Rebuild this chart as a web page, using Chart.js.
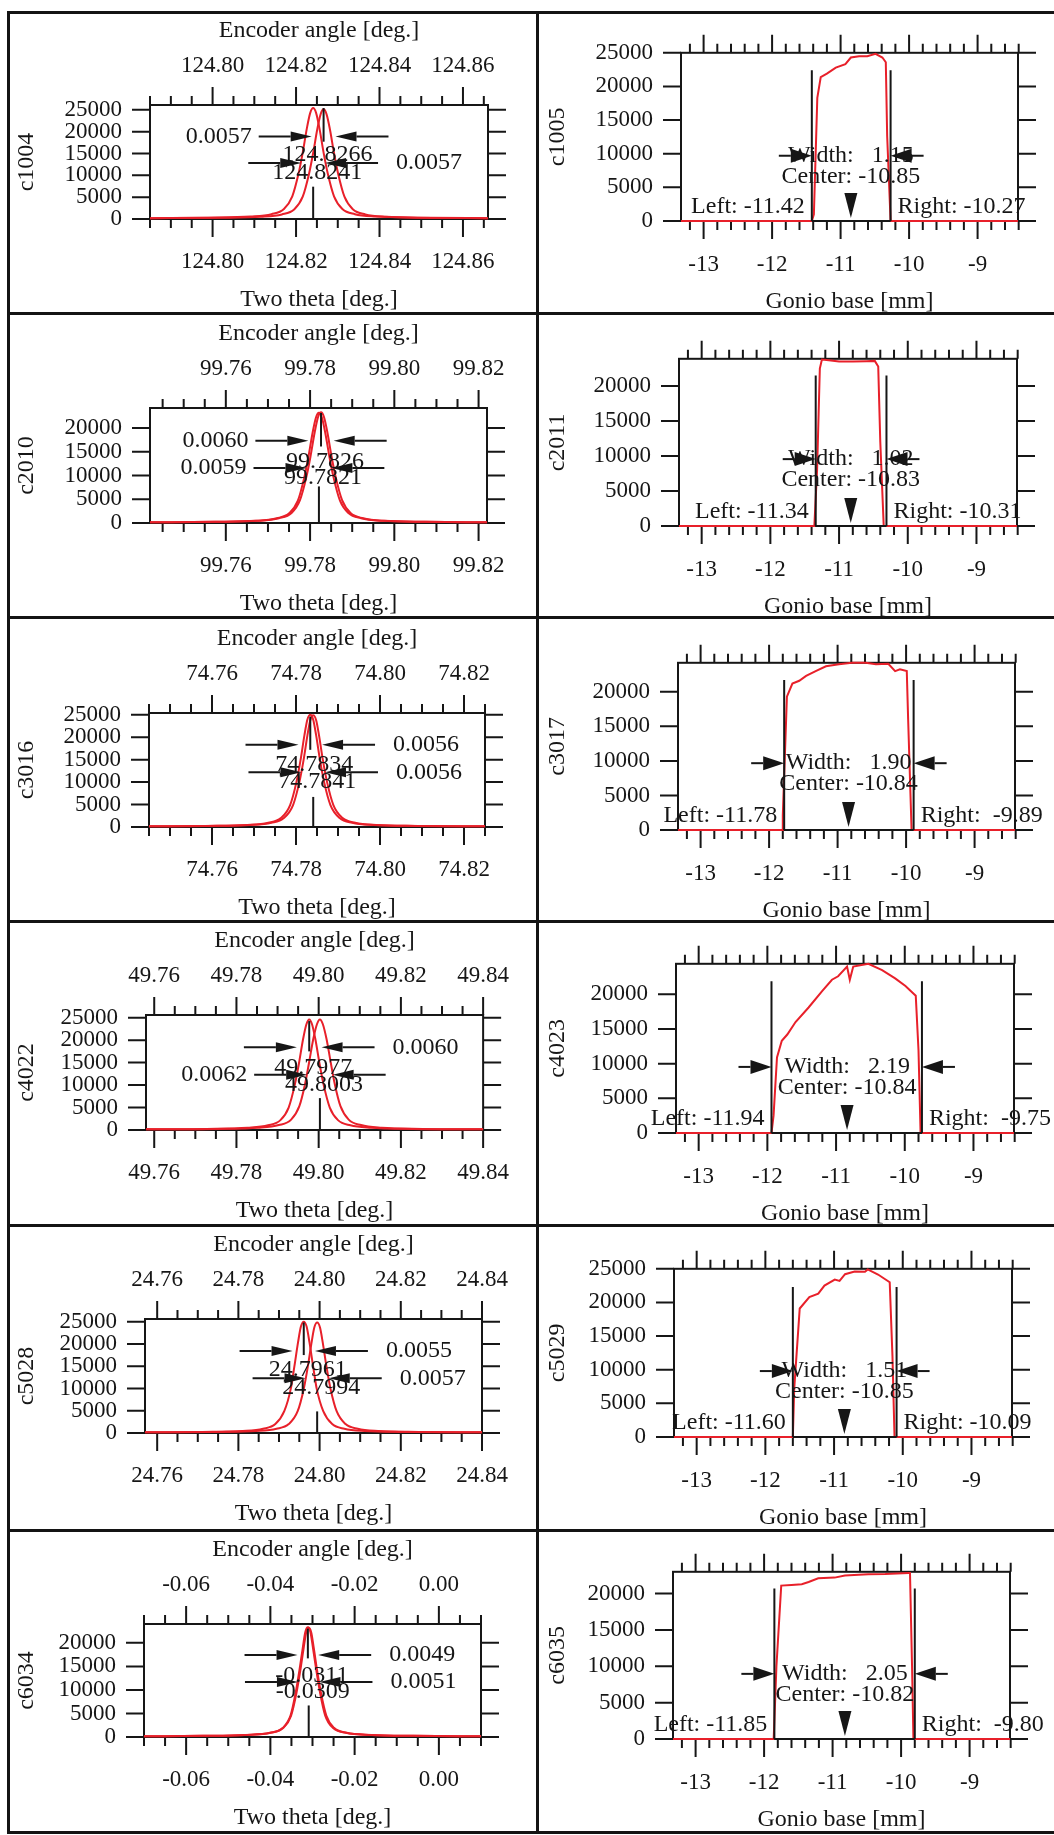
<!DOCTYPE html>
<html>
<head>
<meta charset="utf-8">
<script src="https://cdn.jsdelivr.net/npm/chart.js@4/dist/chart.umd.min.js"></script>
<style>
  body { margin: 0; background: #fff; }
  #page { position: relative; width: 1054px; height: 1835px; overflow: hidden; background: #fff; }
  #page canvas { position: absolute; }
  .rule { position: absolute; background: #141414; }
</style>
</head>
<body>
<div id="page"></div>
<script>
// ---- left column: two theta scans ----
const thetaNames = ['c1004', 'c2010', 'c3016', 'c4022', 'c5028', 'c6034'];
const thetaRange = [[124.785, 124.866], [99.742, 99.822], [74.745, 74.825], [49.758, 49.840], [24.757, 24.840], [-0.070, 0.010]];
const thetaMajor = [
  [124.80, 124.82, 124.84, 124.86],
  [99.76, 99.78, 99.80, 99.82],
  [74.76, 74.78, 74.80, 74.82],
  [49.76, 49.78, 49.80, 49.82, 49.84],
  [24.76, 24.78, 24.80, 24.82, 24.84],
  [-0.06, -0.04, -0.02, 0.00]
];
const thetaMinor = [[124.785, 124.865], [99.745, 99.820], [74.745, 74.825], [49.760, 49.840], [24.760, 24.840], [-0.070, 0.010]]; // every 0.005
const thetaYMax = [26100, 24200, 25400, 25600, 25600, 24000];
const countTicks = [0, 5000, 10000, 15000, 20000, 25000];

const c1004a = [[124.785,200],[124.7991,300],[124.8091,550],[124.8141,1100],[124.8171,2300],[124.8191,5200],[124.8206,10400],[124.8216,15200],[124.8226,20800],[124.8234,24300],[124.8241,25400],[124.8248,24300],[124.8256,20800],[124.8266,15200],[124.8276,10400],[124.8291,5200],[124.8311,2300],[124.8341,1100],[124.8391,550],[124.8491,300],[124.866,200]];
const c1004b = [[124.785,200],[124.8016,280],[124.8116,500],[124.8166,1050],[124.8196,2250],[124.8216,5100],[124.8231,10300],[124.8241,15100],[124.8251,20600],[124.8259,24000],[124.8266,25100],[124.8273,24000],[124.8281,20600],[124.8291,15100],[124.8301,10300],[124.8316,5100],[124.8336,2250],[124.8366,1050],[124.8416,500],[124.8516,280],[124.866,200]];
const c2010a = [[99.742,150],[99.7576,250],[99.7676,450],[99.7726,1000],[99.7756,2100],[99.7776,4800],[99.7791,9600],[99.7801,14000],[99.7811,19100],[99.7819,22300],[99.7826,23300],[99.7833,22300],[99.7841,19100],[99.7851,14000],[99.7861,9600],[99.7876,4800],[99.7896,2100],[99.7926,1000],[99.7976,450],[99.8076,250],[99.822,150]];
const c2010b = [[99.742,150],[99.7571,250],[99.7671,450],[99.7721,1000],[99.7751,2100],[99.7771,4700],[99.7786,9500],[99.7796,13900],[99.7806,19000],[99.7814,22200],[99.7821,23200],[99.7828,22200],[99.7836,19000],[99.7846,13900],[99.7856,9500],[99.7871,4700],[99.7891,2100],[99.7921,1000],[99.7971,450],[99.8071,250],[99.822,150]];
const c3016a = [[74.745,150],[74.7584,250],[74.7684,450],[74.7734,950],[74.7764,2000],[74.7786,4900],[74.7801,10000],[74.7811,15000],[74.7820,20400],[74.7827,23900],[74.7834,25000],[74.7841,23900],[74.7848,20400],[74.7857,15000],[74.7867,10000],[74.7882,4900],[74.7904,2000],[74.7934,950],[74.7984,450],[74.8084,250],[74.825,150]];
const c3016b = [[74.745,150],[74.7591,250],[74.7691,450],[74.7741,950],[74.7771,2000],[74.7793,4900],[74.7808,10000],[74.7818,14900],[74.7827,20300],[74.7834,23800],[74.7841,24900],[74.7848,23800],[74.7855,20300],[74.7864,14900],[74.7874,10000],[74.7889,4900],[74.7911,2000],[74.7941,950],[74.7991,450],[74.8091,250],[74.825,150]];
const c4022a = [[49.758,150],[49.7727,250],[49.7827,500],[49.7877,1050],[49.7907,2200],[49.7927,5000],[49.7942,10100],[49.7952,14800],[49.7962,20200],[49.7970,23500],[49.7977,24600],[49.7984,23500],[49.7992,20200],[49.8002,14800],[49.8012,10100],[49.8027,5000],[49.8047,2200],[49.8077,1050],[49.8127,500],[49.8227,250],[49.840,150]];
const c4022b = [[49.758,150],[49.7753,250],[49.7853,500],[49.7903,1100],[49.7933,2300],[49.7953,5300],[49.7967,10300],[49.7977,15200],[49.7987,20300],[49.7996,23600],[49.8003,24600],[49.8010,23600],[49.8019,20300],[49.8029,15200],[49.8039,10300],[49.8053,5300],[49.8073,2300],[49.8103,1100],[49.8153,500],[49.8253,250],[49.840,150]];
const c5028a = [[24.757,150],[24.7711,250],[24.7811,450],[24.7861,950],[24.7891,2000],[24.7913,4900],[24.7929,9900],[24.7938,15000],[24.7947,20400],[24.7954,23900],[24.7961,25000],[24.7968,23900],[24.7975,20400],[24.7984,15000],[24.7993,9900],[24.8009,4900],[24.8031,2000],[24.8061,950],[24.8111,450],[24.8211,250],[24.840,150]];
const c5028b = [[24.757,150],[24.7744,250],[24.7844,450],[24.7894,950],[24.7924,2000],[24.7946,4900],[24.7961,9900],[24.7971,14900],[24.7980,20200],[24.7987,23700],[24.7994,24800],[24.8001,23700],[24.8008,20200],[24.8017,14900],[24.8027,9900],[24.8042,4900],[24.8064,2000],[24.8094,950],[24.8144,450],[24.8244,250],[24.840,150]];
const c6034a = [[-0.070,150],[-0.0561,250],[-0.0461,450],[-0.0401,900],[-0.0371,1900],[-0.0352,4600],[-0.0340,9400],[-0.0331,14200],[-0.0323,19000],[-0.0317,22300],[-0.0311,23300],[-0.0305,22300],[-0.0299,19000],[-0.0291,14200],[-0.0282,9400],[-0.0270,4600],[-0.0251,1900],[-0.0221,900],[-0.0161,450],[-0.0061,250],[0.010,150]];
const c6034b = [[-0.070,150],[-0.0559,250],[-0.0459,450],[-0.0399,900],[-0.0369,1950],[-0.0351,4500],[-0.0338,9400],[-0.0329,14100],[-0.0321,18900],[-0.0315,22200],[-0.0309,23200],[-0.0303,22200],[-0.0297,18900],[-0.0289,14100],[-0.0280,9400],[-0.0267,4500],[-0.0249,1950],[-0.0219,900],[-0.0159,450],[-0.0059,250],[0.010,150]];
const thetaCurves = [[c1004a, c1004b], [c2010a, c2010b], [c3016a, c3016b], [c4022a, c4022b], [c5028a, c5028b], [c6034a, c6034b]];

// peak annotations: [upper, lower]
const peakPos = [[124.8266, 124.8241], [99.7826, 99.7821], [74.7834, 74.7841], [49.7977, 49.8003], [24.7961, 24.7994], [-0.0311, -0.0309]];
const peakFwhm = [[0.0057, 0.0057], [0.0060, 0.0059], [0.0056, 0.0056], [0.0060, 0.0062], [0.0055, 0.0057], [0.0049, 0.0051]];
const fwhmSide = [['l', 'r'], ['l', 'l'], ['r', 'r'], ['r', 'l'], ['r', 'r'], ['r', 'r']];
const arrowLevel = [[18900, 12800], [17300, 11600], [18300, 12200], [18400, 12300], [18400, 12300], [17400, 11700]];
const posLevel = [[14700, 10500], [13000, 9500], [13800, 10200], [13950, 10100], [14200, 10100], [13100, 9600]];
const markUpper = [[25400, 17700], [23150, 16100], [24600, 17200], [24250, 17500], [24800, 17500], [23000, 16700]];
const markLower = [7400, 7700, 6700, 7100, 4850, 6700];

// ---- right column: gonio base scans ----
const gonioNames = ['c1005', 'c2011', 'c3017', 'c4023', 'c5029', 'c6035'];
const gonioRange = [-13.33, -8.41];
const gonioMajor = [-13, -12, -11, -10, -9];
const gonioMinor = [-13.2, -8.4]; // every 0.2
const gonioYMax = [25000, 23900, 24200, 24400, 25000, 23000];

const c1005 = [[-13.33,0],[-11.42,0],[-11.39,1000],[-11.34,18300],[-11.29,21400],[-11.20,21900],[-11.07,22800],[-10.93,23300],[-10.85,24300],[-10.73,24500],[-10.61,24500],[-10.49,24850],[-10.39,24300],[-10.34,23600],[-10.32,12600],[-10.27,0],[-8.41,0]];
const c2011 = [[-13.33,0],[-11.36,0],[-11.32,8000],[-11.28,22500],[-11.25,23800],[-11.15,23700],[-11.00,23500],[-10.80,23500],[-10.60,23550],[-10.48,23600],[-10.43,22800],[-10.40,12000],[-10.35,0],[-8.41,0]];
const c3017 = [[-13.33,0],[-11.81,0],[-11.80,2100],[-11.74,19300],[-11.66,21200],[-11.56,21600],[-11.46,22300],[-11.32,23000],[-11.17,23700],[-10.98,24000],[-10.79,24200],[-10.59,24200],[-10.44,24000],[-10.26,24050],[-10.16,23000],[-10.09,23250],[-9.99,23000],[-9.97,16000],[-9.92,0],[-8.41,0]];
const c4023 = [[-13.33,0],[-11.94,0],[-11.91,2500],[-11.86,10900],[-11.79,13300],[-11.71,14200],[-11.59,16000],[-11.40,18100],[-11.20,20500],[-11.06,22100],[-10.97,22600],[-10.84,24000],[-10.80,22100],[-10.75,24000],[-10.53,24400],[-10.33,23500],[-10.14,22300],[-9.99,21200],[-9.84,19800],[-9.80,11900],[-9.77,0],[-8.41,0]];
const c5029 = [[-13.33,0],[-11.60,0],[-11.58,7200],[-11.50,19100],[-11.36,20800],[-11.23,21300],[-11.14,22500],[-10.99,23400],[-10.92,23200],[-10.84,24200],[-10.70,24600],[-10.55,24550],[-10.51,24900],[-10.36,24150],[-10.19,23000],[-10.15,12000],[-10.12,0],[-8.41,0]];
const c6035 = [[-13.33,0],[-11.86,0],[-11.82,10000],[-11.75,21100],[-11.60,21200],[-11.45,21300],[-11.35,21600],[-11.21,22100],[-10.97,22200],[-10.82,22500],[-10.48,22650],[-10.23,22700],[-9.89,22850],[-9.87,22850],[-9.84,10000],[-9.82,0],[-8.41,0]];
const gonioCurves = [c1005, c2011, c3017, c4023, c5029, c6035];

const slitLeft = [-11.42, -11.34, -11.78, -11.94, -11.60, -11.85];
const slitRight = [-10.27, -10.31, -9.89, -9.75, -10.09, -9.80];
const slitCenter = [-10.85, -10.83, -10.84, -10.84, -10.85, -10.82];
const slitWidth = [1.15, 1.02, 1.90, 2.19, 1.51, 2.05];
const slitArrow = [9700, 9560, 9670, 9530, 9800, 8960];
const slitTop = [22400, 21500, 21700, 21900, 22300, 20700];

// ---- page layout (pixels) ----
const rowLines = [12, 313, 617, 921, 1225, 1530, 1832];
const leftBox = [[150, 488, 105, 219], [150, 487, 408, 523], [149, 485, 713, 827], [146, 484, 1015, 1130], [145, 482, 1319, 1433], [144, 481, 1624, 1737]];
const rightBox = [[681, 1018, 47, 221], [679, 1017, 353, 526], [678, 1015, 657, 830], [676, 1014, 958, 1133], [674, 1012, 1263, 1437], [673, 1010, 1566, 1739]];

const ink = '#161616';
const red = '#e8202a';
const textFont = '24px "Liberation Serif"';
const page = document.getElementById('page');

Chart.defaults.font.family = '"Liberation Serif", "Times New Roman", serif';
Chart.defaults.font.size = 23;
Chart.defaults.color = ink;

function tickList(major, lo, hi, step) {
  const out = [];
  const n = Math.round((hi - lo) / step);
  for (let i = 0; i <= n; i++) {
    const v = +(lo + i * step).toFixed(4);
    out.push({ value: v, big: major.some(m => Math.abs(m - v) < step / 10) });
  }
  return out;
}

function addCanvas(left, top, w, h) {
  const cv = document.createElement('canvas');
  cv.width = w; cv.height = h;
  cv.style.left = left + 'px';
  cv.style.top = top + 'px';
  page.appendChild(cv);
  return cv;
}

function arrow(ctx, tipX, y, dir, len, headLen, headHalf) {
  const tail = tipX - dir * len;
  const base = tipX - dir * headLen;
  ctx.beginPath(); ctx.moveTo(tail, y); ctx.lineTo(base, y); ctx.stroke();
  ctx.beginPath(); ctx.moveTo(tipX, y); ctx.lineTo(base, y - headHalf); ctx.lineTo(base, y + headHalf); ctx.closePath(); ctx.fill();
}

// box + outward tick marks, drawn under the curves
const frame = {
  id: 'frame',
  beforeDatasetsDraw(chart) {
    const { ctx, chartArea: a, scales } = chart;
    ctx.save();
    ctx.strokeStyle = ink; ctx.lineWidth = 2;
    ctx.strokeRect(a.left, a.top, a.right - a.left, a.bottom - a.top);
    ctx.beginPath();
    scales.x.ticks.forEach(t => {
      const px = scales.x.getPixelForValue(t.value);
      ctx.moveTo(px, a.bottom); ctx.lineTo(px, a.bottom + (t.big ? 18 : 9));
    });
    const top = scales.x2 || scales.x;
    top.ticks.forEach(t => {
      const px = top.getPixelForValue(t.value);
      ctx.moveTo(px, a.top); ctx.lineTo(px, a.top - (t.big ? 18 : 9));
    });
    scales.y.ticks.forEach(t => {
      const py = scales.y.getPixelForValue(t.value);
      ctx.moveTo(a.left - 18, py); ctx.lineTo(a.left, py);
      ctx.moveTo(a.right, py); ctx.lineTo(a.right + 18, py);
    });
    ctx.stroke();
    ctx.restore();
  }
};

function drawPeaks(chart, i) {
  const { ctx, scales: { x, y } } = chart;
  ctx.save();
  ctx.strokeStyle = ink; ctx.fillStyle = ink; ctx.lineWidth = 2;
  ctx.font = textFont;
  ctx.textBaseline = 'middle';
  for (let k = 0; k < 2; k++) {
    const c = peakPos[i][k], w = peakFwhm[i][k];
    const py = y.getPixelForValue(arrowLevel[i][k]);
    const l = x.getPixelForValue(c - w / 2), r = x.getPixelForValue(c + w / 2);
    const cx = x.getPixelForValue(c);
    ctx.textAlign = 'center';
    ctx.fillText(c.toFixed(4), cx + 4, y.getPixelForValue(posLevel[i][k]));
    arrow(ctx, l, py, 1, 53, 21, 5);
    arrow(ctx, r, py, -1, 53, 21, 5);
    if (fwhmSide[i][k] === 'l') {
      ctx.textAlign = 'right';
      ctx.fillText(w.toFixed(4), l - 60, py);
    } else {
      ctx.textAlign = 'left';
      ctx.fillText(w.toFixed(4), r + 71, py);
    }
    const m = k === 0 ? markUpper[i] : [0, markLower[i]];
    ctx.beginPath();
    ctx.moveTo(cx, y.getPixelForValue(m[0]));
    ctx.lineTo(cx, y.getPixelForValue(m[1]));
    ctx.stroke();
  }
  ctx.restore();
}

function drawSlit(chart, i) {
  const { ctx, scales: { x, y } } = chart;
  const xl = x.getPixelForValue(slitLeft[i]);
  const xr = x.getPixelForValue(slitRight[i]);
  const xc = x.getPixelForValue(slitCenter[i]);
  const y0 = y.getPixelForValue(0);
  const yt = y.getPixelForValue(slitTop[i]);
  const ya = y.getPixelForValue(slitArrow[i]);
  ctx.save();
  ctx.strokeStyle = ink; ctx.fillStyle = ink; ctx.lineWidth = 2;
  ctx.font = textFont;
  ctx.textBaseline = 'middle';
  ctx.beginPath();
  ctx.moveTo(xl, y0); ctx.lineTo(xl, yt);
  ctx.moveTo(xr, y0); ctx.lineTo(xr, yt);
  ctx.moveTo(xl, y0); ctx.lineTo(xr, y0);
  ctx.stroke();
  ctx.textAlign = 'center';
  ctx.fillText('Width:' + slitWidth[i].toFixed(2).padStart(7), xc, ya);
  ctx.fillText('Center: ' + slitCenter[i].toFixed(2), xc, ya + 21);
  ctx.textAlign = 'right';
  ctx.fillText('Left: ' + slitLeft[i].toFixed(2), xl - 7, y0 - 14);
  ctx.textAlign = 'left';
  ctx.fillText('Right: ' + slitRight[i].toFixed(2).padStart(6), xr + 7, y0 - 14);
  arrow(ctx, xl, ya, 1, 33, 21, 7);
  arrow(ctx, xr, ya, -1, 33, 21, 7);
  ctx.beginPath();
  ctx.moveTo(xc, y0 - 3); ctx.lineTo(xc - 6.5, y0 - 28); ctx.lineTo(xc + 6.5, y0 - 28); ctx.closePath(); ctx.fill();
  ctx.restore();
}

function yScale(max, width, name, pad) {
  return {
    min: 0, max,
    grid: { display: false, drawTicks: false }, border: { display: false },
    afterBuildTicks: s => { s.ticks = countTicks.filter(v => v <= max).map(v => ({ value: v, big: true })); },
    afterFit: s => { s.width = width; },
    ticks: { autoSkip: false, padding: 28, callback: v => String(v) },
    title: { display: true, text: name, font: { size: 24 }, padding: { top: pad, bottom: 0 } }
  };
}

function xScale(pos, lo, hi, ticks, fmt, height, pad, title, titlePad) {
  return {
    type: 'linear', axis: 'x', position: pos, min: lo, max: hi,
    grid: { display: false, drawTicks: false }, border: { display: false },
    afterBuildTicks: s => { s.ticks = ticks.map(t => ({ value: t.value, big: t.big })); },
    afterFit: s => { s.height = height; },
    ticks: { autoSkip: false, maxRotation: 0, padding: pad, callback: (v, k, list) => list[k].big ? fmt(v) : '' },
    title: { display: !!title, text: title || '', font: { size: 24 }, padding: titlePad }
  };
}

const lineStyle = { borderColor: red, borderWidth: 2, pointRadius: 0, fill: false, clip: false };
const baseOptions = { responsive: false, animation: false, devicePixelRatio: 1, events: [], plugins: { legend: { display: false }, tooltip: { enabled: false } } };

// left column
thetaNames.forEach((name, i) => {
  const [L, R, T, B] = leftBox[i];
  const cv = addCanvas(10, T - 93, 528, B + 96 - (T - 93));
  const [lo, hi] = thetaRange[i];
  const ticks = tickList(thetaMajor[i], thetaMinor[i][0], thetaMinor[i][1], 0.005);
  const fmt = v => v.toFixed(2);
  new Chart(cv, {
    type: 'line',
    data: {
      datasets: thetaCurves[i].map(c => ({
        data: c.map(p => ({ x: p[0], y: p[1] })),
        cubicInterpolationMode: 'monotone', ...lineStyle
      }))
    },
    options: {
      ...baseOptions,
      layout: { padding: { left: 0, top: 0, bottom: 0, right: 538 - R } },
      scales: {
        x: xScale('bottom', lo, hi, ticks, fmt, 96, 29, 'Two theta [deg.]', { top: 0, bottom: 1 }),
        x2: xScale('top', lo, hi, ticks, fmt, 93, 25, 'Encoder angle [deg.]', { top: 4, bottom: 0 }),
        y: yScale(thetaYMax[i], L - 10, name, 2)
      }
    },
    plugins: [frame, { id: 'peaks', afterDatasetsDraw: c => drawPeaks(c, i) }]
  });
});

// right column
gonioNames.forEach((name, i) => {
  const [L, R, T, B] = rightBox[i];
  const cv = addCanvas(538, T - 36, 516, B + 95 - (T - 36));
  const ticks = tickList(gonioMajor, gonioMinor[0], gonioMinor[1], 0.2);
  new Chart(cv, {
    type: 'line',
    data: { datasets: [{ data: gonioCurves[i].map(p => ({ x: p[0], y: p[1] })), tension: 0, ...lineStyle }] },
    options: {
      ...baseOptions,
      layout: { padding: { left: 0, top: 36, bottom: 0, right: 1054 - R } },
      scales: {
        x: xScale('bottom', gonioRange[0], gonioRange[1], ticks, v => String(Math.round(v)), 95, 30, 'Gonio base [mm]', { top: 0, bottom: 0 }),
        y: yScale(gonioYMax[i], L - 538, name, 5)
      }
    },
    plugins: [frame, { id: 'slit', afterDatasetsDraw: c => drawSlit(c, i) }]
  });
});

// panel borders
function rule(x, y, w, h) {
  const d = document.createElement('div');
  d.className = 'rule';
  d.style.left = x + 'px'; d.style.top = y + 'px';
  d.style.width = w + 'px'; d.style.height = h + 'px';
  page.appendChild(d);
}
rowLines.forEach(y => rule(7, y - 1, 1047, 3));
rule(7, rowLines[0], 3, rowLines[6] - rowLines[0] + 2);
rule(536, rowLines[0], 3, rowLines[6] - rowLines[0] + 2);
</script>
</body>
</html>
